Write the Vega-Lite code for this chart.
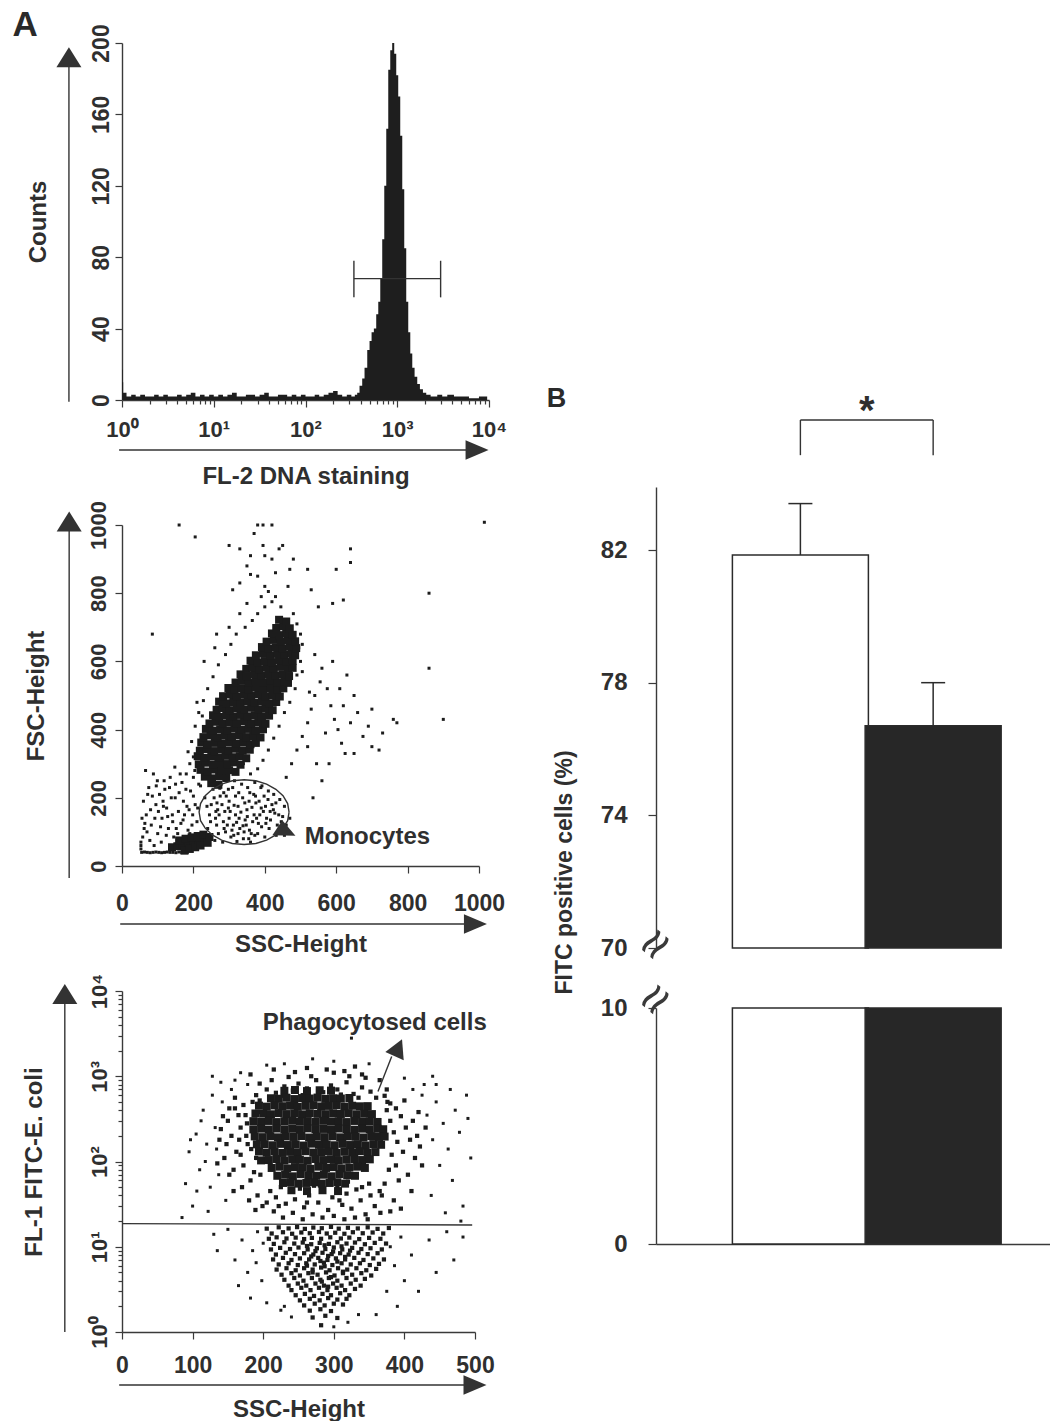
{
"$schema": "https://vega.github.io/schema/vega-lite/v6.json",
"background": "white",
"padding": {"left": 12, "top": 8, "right": 0, "bottom": 0},
"config": {
  "view": {"stroke": null},
  "font": "Liberation Sans",
  "axis": {"domainColor": "#3a3a3a", "domainWidth": 1.4, "tickColor": "#3a3a3a", "tickWidth": 1.2, "labelColor": "#2f2f2f", "titleColor": "#2f2f2f", "labelFont": "Liberation Sans", "titleFont": "Liberation Sans", "titleFontWeight": "bold", "grid": false, "labelFlush": false, "labelOverlap": false, "labelBound": false},
  "text": {"font": "Liberation Sans", "fontWeight": "bold", "color": "#2f2f2f"}
},
"datasets": {
  "hist": [{"fl2":1,"count":17},{"fl2":1.015,"count":10},{"fl2":1.03,"count":4},{"fl2":1.12,"count":2},{"fl2":1.26,"count":3},{"fl2":1.41,"count":2},{"fl2":1.58,"count":3},{"fl2":1.78,"count":2},{"fl2":2.0,"count":2},{"fl2":2.24,"count":3},{"fl2":2.51,"count":2},{"fl2":2.82,"count":3},{"fl2":3.16,"count":2},{"fl2":3.55,"count":2},{"fl2":3.98,"count":3},{"fl2":4.47,"count":2},{"fl2":5.01,"count":3},{"fl2":5.62,"count":4},{"fl2":6.31,"count":2},{"fl2":7.08,"count":3},{"fl2":7.94,"count":2},{"fl2":8.91,"count":3},{"fl2":10,"count":2},{"fl2":11.2,"count":3},{"fl2":12.6,"count":2},{"fl2":14.1,"count":3},{"fl2":15.8,"count":4},{"fl2":17.8,"count":2},{"fl2":20,"count":2},{"fl2":22.4,"count":3},{"fl2":25.1,"count":3},{"fl2":28.2,"count":2},{"fl2":31.6,"count":3},{"fl2":35.5,"count":4},{"fl2":39.8,"count":2},{"fl2":44.7,"count":2},{"fl2":50.1,"count":3},{"fl2":56.2,"count":3},{"fl2":63.1,"count":2},{"fl2":70.8,"count":3},{"fl2":79.4,"count":2},{"fl2":89.1,"count":3},{"fl2":100,"count":2},{"fl2":112,"count":2},{"fl2":126,"count":3},{"fl2":141,"count":2},{"fl2":158,"count":3},{"fl2":178,"count":4},{"fl2":200,"count":5},{"fl2":224,"count":3},{"fl2":251,"count":2},{"fl2":282,"count":3},{"fl2":316,"count":2},{"fl2":345,"count":3},{"fl2":366,"count":4},{"fl2":388,"count":8},{"fl2":415,"count":12},{"fl2":440,"count":18},{"fl2":471,"count":28},{"fl2":499,"count":33},{"fl2":525,"count":38},{"fl2":556,"count":40},{"fl2":590,"count":48},{"fl2":621,"count":55},{"fl2":653,"count":68},{"fl2":686,"count":90},{"fl2":722,"count":120},{"fl2":759,"count":152},{"fl2":798,"count":185},{"fl2":839,"count":196},{"fl2":881,"count":200},{"fl2":927,"count":194},{"fl2":975,"count":182},{"fl2":1025,"count":170},{"fl2":1078,"count":148},{"fl2":1134,"count":118},{"fl2":1192,"count":85},{"fl2":1253,"count":55},{"fl2":1318,"count":38},{"fl2":1387,"count":26},{"fl2":1458,"count":18},{"fl2":1545,"count":13},{"fl2":1652,"count":9},{"fl2":1766,"count":6},{"fl2":1905,"count":4},{"fl2":2070,"count":3},{"fl2":2310,"count":2},{"fl2":2730,"count":3},{"fl2":3090,"count":2},{"fl2":3510,"count":3},{"fl2":4150,"count":2},{"fl2":5120,"count":2},{"fl2":6050,"count":1},{"fl2":7770,"count":2},{"fl2":9550,"count":0},{"fl2":10000,"count":0}],
  "fsc_core": [{"ssc":250,"fsc":243},{"ssc":270,"fsc":238},{"ssc":232,"fsc":262},{"ssc":252,"fsc":257},{"ssc":272,"fsc":263},{"ssc":292,"fsc":258},{"ssc":220,"fsc":282},{"ssc":240,"fsc":277},{"ssc":260,"fsc":283},{"ssc":280,"fsc":279},{"ssc":300,"fsc":281},{"ssc":318,"fsc":276},{"ssc":215,"fsc":298},{"ssc":235,"fsc":303},{"ssc":255,"fsc":297},{"ssc":275,"fsc":302},{"ssc":295,"fsc":299},{"ssc":315,"fsc":304},{"ssc":332,"fsc":297},{"ssc":212,"fsc":322},{"ssc":230,"fsc":317},{"ssc":250,"fsc":321},{"ssc":270,"fsc":318},{"ssc":290,"fsc":323},{"ssc":310,"fsc":319},{"ssc":330,"fsc":322},{"ssc":348,"fsc":316},{"ssc":218,"fsc":338},{"ssc":238,"fsc":343},{"ssc":258,"fsc":337},{"ssc":278,"fsc":342},{"ssc":298,"fsc":339},{"ssc":318,"fsc":344},{"ssc":338,"fsc":338},{"ssc":358,"fsc":341},{"ssc":222,"fsc":362},{"ssc":240,"fsc":357},{"ssc":260,"fsc":361},{"ssc":280,"fsc":358},{"ssc":300,"fsc":363},{"ssc":320,"fsc":359},{"ssc":340,"fsc":362},{"ssc":360,"fsc":357},{"ssc":375,"fsc":361},{"ssc":228,"fsc":378},{"ssc":248,"fsc":383},{"ssc":268,"fsc":377},{"ssc":288,"fsc":382},{"ssc":308,"fsc":379},{"ssc":328,"fsc":384},{"ssc":348,"fsc":378},{"ssc":368,"fsc":381},{"ssc":388,"fsc":377},{"ssc":235,"fsc":402},{"ssc":255,"fsc":397},{"ssc":275,"fsc":401},{"ssc":295,"fsc":398},{"ssc":315,"fsc":403},{"ssc":335,"fsc":399},{"ssc":355,"fsc":402},{"ssc":375,"fsc":397},{"ssc":395,"fsc":401},{"ssc":245,"fsc":418},{"ssc":262,"fsc":423},{"ssc":282,"fsc":417},{"ssc":302,"fsc":422},{"ssc":322,"fsc":419},{"ssc":342,"fsc":424},{"ssc":362,"fsc":418},{"ssc":382,"fsc":421},{"ssc":402,"fsc":417},{"ssc":255,"fsc":442},{"ssc":272,"fsc":437},{"ssc":292,"fsc":441},{"ssc":312,"fsc":438},{"ssc":332,"fsc":443},{"ssc":352,"fsc":439},{"ssc":372,"fsc":442},{"ssc":392,"fsc":437},{"ssc":412,"fsc":441},{"ssc":265,"fsc":458},{"ssc":282,"fsc":463},{"ssc":302,"fsc":457},{"ssc":322,"fsc":462},{"ssc":342,"fsc":459},{"ssc":362,"fsc":464},{"ssc":382,"fsc":458},{"ssc":402,"fsc":461},{"ssc":422,"fsc":457},{"ssc":272,"fsc":482},{"ssc":292,"fsc":477},{"ssc":312,"fsc":481},{"ssc":332,"fsc":478},{"ssc":352,"fsc":483},{"ssc":372,"fsc":479},{"ssc":392,"fsc":482},{"ssc":412,"fsc":477},{"ssc":432,"fsc":481},{"ssc":283,"fsc":498},{"ssc":302,"fsc":503},{"ssc":322,"fsc":497},{"ssc":342,"fsc":502},{"ssc":362,"fsc":499},{"ssc":382,"fsc":504},{"ssc":402,"fsc":498},{"ssc":422,"fsc":501},{"ssc":442,"fsc":497},{"ssc":298,"fsc":522},{"ssc":315,"fsc":517},{"ssc":335,"fsc":521},{"ssc":355,"fsc":518},{"ssc":375,"fsc":523},{"ssc":395,"fsc":519},{"ssc":415,"fsc":522},{"ssc":435,"fsc":517},{"ssc":452,"fsc":521},{"ssc":318,"fsc":538},{"ssc":335,"fsc":543},{"ssc":355,"fsc":537},{"ssc":375,"fsc":542},{"ssc":395,"fsc":539},{"ssc":415,"fsc":544},{"ssc":435,"fsc":538},{"ssc":455,"fsc":541},{"ssc":465,"fsc":537},{"ssc":332,"fsc":562},{"ssc":350,"fsc":557},{"ssc":370,"fsc":561},{"ssc":390,"fsc":558},{"ssc":410,"fsc":563},{"ssc":430,"fsc":559},{"ssc":450,"fsc":562},{"ssc":468,"fsc":557},{"ssc":348,"fsc":578},{"ssc":365,"fsc":583},{"ssc":385,"fsc":577},{"ssc":405,"fsc":582},{"ssc":425,"fsc":579},{"ssc":445,"fsc":584},{"ssc":465,"fsc":578},{"ssc":478,"fsc":581},{"ssc":360,"fsc":602},{"ssc":380,"fsc":597},{"ssc":400,"fsc":601},{"ssc":420,"fsc":598},{"ssc":440,"fsc":603},{"ssc":460,"fsc":599},{"ssc":478,"fsc":602},{"ssc":375,"fsc":618},{"ssc":395,"fsc":623},{"ssc":415,"fsc":617},{"ssc":435,"fsc":622},{"ssc":455,"fsc":619},{"ssc":475,"fsc":624},{"ssc":485,"fsc":618},{"ssc":392,"fsc":642},{"ssc":410,"fsc":637},{"ssc":430,"fsc":641},{"ssc":450,"fsc":638},{"ssc":470,"fsc":643},{"ssc":488,"fsc":639},{"ssc":405,"fsc":658},{"ssc":425,"fsc":663},{"ssc":445,"fsc":657},{"ssc":465,"fsc":662},{"ssc":485,"fsc":659},{"ssc":420,"fsc":682},{"ssc":440,"fsc":677},{"ssc":460,"fsc":681},{"ssc":478,"fsc":678},{"ssc":432,"fsc":698},{"ssc":452,"fsc":703},{"ssc":470,"fsc":697},{"ssc":440,"fsc":722},{"ssc":460,"fsc":717},{"ssc":140,"fsc":55},{"ssc":155,"fsc":58},{"ssc":170,"fsc":62},{"ssc":185,"fsc":66},{"ssc":200,"fsc":70},{"ssc":215,"fsc":74},{"ssc":230,"fsc":78},{"ssc":160,"fsc":75},{"ssc":178,"fsc":80},{"ssc":195,"fsc":84},{"ssc":212,"fsc":88},{"ssc":228,"fsc":92},{"ssc":175,"fsc":45},{"ssc":190,"fsc":50},{"ssc":205,"fsc":55},{"ssc":220,"fsc":60},{"ssc":240,"fsc":68},{"ssc":245,"fsc":85}],
  "fsc_sparse": [{"ssc":250,"fsc":180},{"ssc":262,"fsc":140},{"ssc":275,"fsc":205},{"ssc":288,"fsc":160},{"ssc":295,"fsc":120},{"ssc":300,"fsc":190},{"ssc":310,"fsc":230},{"ssc":318,"fsc":150},{"ssc":325,"fsc":175},{"ssc":330,"fsc":110},{"ssc":338,"fsc":200},{"ssc":345,"fsc":135},{"ssc":350,"fsc":165},{"ssc":358,"fsc":215},{"ssc":362,"fsc":95},{"ssc":370,"fsc":150},{"ssc":375,"fsc":185},{"ssc":382,"fsc":125},{"ssc":390,"fsc":170},{"ssc":398,"fsc":205},{"ssc":405,"fsc":140},{"ssc":412,"fsc":110},{"ssc":420,"fsc":180},{"ssc":428,"fsc":155},{"ssc":435,"fsc":120},{"ssc":442,"fsc":195},{"ssc":450,"fsc":145},{"ssc":278,"fsc":240},{"ssc":290,"fsc":100},{"ssc":305,"fsc":85},{"ssc":322,"fsc":72},{"ssc":340,"fsc":80},{"ssc":360,"fsc":70},{"ssc":380,"fsc":95},{"ssc":400,"fsc":85},{"ssc":415,"fsc":160},{"ssc":432,"fsc":90},{"ssc":265,"fsc":120},{"ssc":255,"fsc":225},{"ssc":270,"fsc":95},{"ssc":285,"fsc":215},{"ssc":315,"fsc":250},{"ssc":335,"fsc":240},{"ssc":352,"fsc":230},{"ssc":372,"fsc":245},{"ssc":392,"fsc":235},{"ssc":410,"fsc":220},{"ssc":425,"fsc":210},{"ssc":245,"fsc":150},{"ssc":240,"fsc":110},{"ssc":232,"fsc":200},{"ssc":300,"fsc":140},{"ssc":312,"fsc":120},{"ssc":328,"fsc":140},{"ssc":348,"fsc":120},{"ssc":366,"fsc":130},{"ssc":386,"fsc":150},{"ssc":402,"fsc":175},{"ssc":318,"fsc":205},{"ssc":298,"fsc":170},{"ssc":280,"fsc":180},{"ssc":268,"fsc":165},{"ssc":356,"fsc":190},{"ssc":374,"fsc":205},{"ssc":342,"fsc":100},{"ssc":325,"fsc":95},{"ssc":455,"fsc":175},{"ssc":460,"fsc":120},{"ssc":470,"fsc":140},{"ssc":455,"fsc":90},{"ssc":260,"fsc":75},{"ssc":282,"fsc":70},{"ssc":258,"fsc":200},{"ssc":266,"fsc":185},{"ssc":272,"fsc":150},{"ssc":284,"fsc":130},{"ssc":292,"fsc":205},{"ssc":303,"fsc":160},{"ssc":308,"fsc":105},{"ssc":314,"fsc":178},{"ssc":321,"fsc":128},{"ssc":327,"fsc":215},{"ssc":333,"fsc":158},{"ssc":339,"fsc":118},{"ssc":344,"fsc":185},{"ssc":351,"fsc":145},{"ssc":357,"fsc":105},{"ssc":364,"fsc":172},{"ssc":369,"fsc":210},{"ssc":377,"fsc":140},{"ssc":384,"fsc":190},{"ssc":391,"fsc":115},{"ssc":396,"fsc":160},{"ssc":403,"fsc":125},{"ssc":409,"fsc":195},{"ssc":416,"fsc":135},{"ssc":424,"fsc":165},{"ssc":431,"fsc":185},{"ssc":439,"fsc":150},{"ssc":446,"fsc":130},{"ssc":298,"fsc":225},{"ssc":286,"fsc":110},{"ssc":274,"fsc":228},{"ssc":263,"fsc":160},{"ssc":248,"fsc":130},{"ssc":238,"fsc":175},{"ssc":355,"fsc":80},{"ssc":372,"fsc":90},{"ssc":389,"fsc":230},{"ssc":313,"fsc":90},{"ssc":60,"fsc":190},{"ssc":68,"fsc":150},{"ssc":75,"fsc":230},{"ssc":82,"fsc":120},{"ssc":88,"fsc":270},{"ssc":95,"fsc":180},{"ssc":100,"fsc":95},{"ssc":105,"fsc":210},{"ssc":112,"fsc":140},{"ssc":118,"fsc":250},{"ssc":125,"fsc":170},{"ssc":130,"fsc":110},{"ssc":138,"fsc":200},{"ssc":145,"fsc":85},{"ssc":150,"fsc":240},{"ssc":158,"fsc":160},{"ssc":165,"fsc":125},{"ssc":172,"fsc":190},{"ssc":180,"fsc":270},{"ssc":185,"fsc":105},{"ssc":192,"fsc":220},{"ssc":198,"fsc":150},{"ssc":205,"fsc":180},{"ssc":210,"fsc":130},{"ssc":215,"fsc":240},{"ssc":70,"fsc":100},{"ssc":78,"fsc":75},{"ssc":90,"fsc":60},{"ssc":110,"fsc":70},{"ssc":62,"fsc":110},{"ssc":58,"fsc":85},{"ssc":120,"fsc":225},{"ssc":135,"fsc":260},{"ssc":148,"fsc":290},{"ssc":160,"fsc":215},{"ssc":175,"fsc":150},{"ssc":190,"fsc":95},{"ssc":200,"fsc":205},{"ssc":66,"fsc":280},{"ssc":85,"fsc":205},{"ssc":102,"fsc":160},{"ssc":128,"fsc":145},{"ssc":142,"fsc":130},{"ssc":168,"fsc":245},{"ssc":182,"fsc":175},{"ssc":56,"fsc":140},{"ssc":96,"fsc":235},{"ssc":115,"fsc":190},{"ssc":152,"fsc":110},{"ssc":170,"fsc":80},{"ssc":64,"fsc":125},{"ssc":72,"fsc":210},{"ssc":80,"fsc":165},{"ssc":92,"fsc":140},{"ssc":99,"fsc":250},{"ssc":108,"fsc":115},{"ssc":116,"fsc":175},{"ssc":124,"fsc":90},{"ssc":133,"fsc":230},{"ssc":141,"fsc":150},{"ssc":149,"fsc":200},{"ssc":156,"fsc":95},{"ssc":163,"fsc":270},{"ssc":171,"fsc":135},{"ssc":179,"fsc":225},{"ssc":188,"fsc":165},{"ssc":196,"fsc":120},{"ssc":204,"fsc":280},{"ssc":212,"fsc":170},{"ssc":220,"fsc":235},{"ssc":200,"fsc":320},{"ssc":195,"fsc":365},{"ssc":205,"fsc":410},{"ssc":215,"fsc":450},{"ssc":228,"fsc":485},{"ssc":240,"fsc":520},{"ssc":255,"fsc":555},{"ssc":270,"fsc":590},{"ssc":290,"fsc":620},{"ssc":305,"fsc":650},{"ssc":320,"fsc":680},{"ssc":345,"fsc":700},{"ssc":365,"fsc":720},{"ssc":380,"fsc":740},{"ssc":400,"fsc":760},{"ssc":420,"fsc":775},{"ssc":445,"fsc":760},{"ssc":480,"fsc":740},{"ssc":490,"fsc":710},{"ssc":500,"fsc":680},{"ssc":495,"fsc":640},{"ssc":500,"fsc":600},{"ssc":490,"fsc":560},{"ssc":485,"fsc":520},{"ssc":470,"fsc":480},{"ssc":455,"fsc":450},{"ssc":440,"fsc":410},{"ssc":425,"fsc":375},{"ssc":410,"fsc":340},{"ssc":395,"fsc":310},{"ssc":380,"fsc":285},{"ssc":360,"fsc":270},{"ssc":340,"fsc":300},{"ssc":320,"fsc":280},{"ssc":190,"fsc":300},{"ssc":200,"fsc":260},{"ssc":185,"fsc":335},{"ssc":230,"fsc":600},{"ssc":260,"fsc":640},{"ssc":300,"fsc":700},{"ssc":330,"fsc":740},{"ssc":350,"fsc":770},{"ssc":390,"fsc":790},{"ssc":410,"fsc":805},{"ssc":430,"fsc":790},{"ssc":455,"fsc":720},{"ssc":210,"fsc":480},{"ssc":265,"fsc":680},{"ssc":225,"fsc":440},{"ssc":505,"fsc":650},{"ssc":460,"fsc":260},{"ssc":475,"fsc":300},{"ssc":490,"fsc":340},{"ssc":505,"fsc":380},{"ssc":520,"fsc":420},{"ssc":530,"fsc":460},{"ssc":540,"fsc":500},{"ssc":555,"fsc":540},{"ssc":560,"fsc":580},{"ssc":575,"fsc":520},{"ssc":585,"fsc":470},{"ssc":595,"fsc":430},{"ssc":605,"fsc":400},{"ssc":615,"fsc":360},{"ssc":625,"fsc":330},{"ssc":640,"fsc":420},{"ssc":650,"fsc":500},{"ssc":660,"fsc":450},{"ssc":675,"fsc":380},{"ssc":690,"fsc":410},{"ssc":700,"fsc":350},{"ssc":720,"fsc":340},{"ssc":730,"fsc":390},{"ssc":770,"fsc":420},{"ssc":760,"fsc":430},{"ssc":520,"fsc":350},{"ssc":545,"fsc":300},{"ssc":560,"fsc":250},{"ssc":535,"fsc":200},{"ssc":580,"fsc":300},{"ssc":610,"fsc":520},{"ssc":630,"fsc":560},{"ssc":590,"fsc":600},{"ssc":540,"fsc":620},{"ssc":505,"fsc":570},{"ssc":620,"fsc":470},{"ssc":650,"fsc":330},{"ssc":700,"fsc":460},{"ssc":570,"fsc":390},{"ssc":525,"fsc":510},{"ssc":160,"fsc":1000},{"ssc":205,"fsc":965},{"ssc":330,"fsc":930},{"ssc":370,"fsc":975},{"ssc":380,"fsc":1000},{"ssc":395,"fsc":1000},{"ssc":420,"fsc":1000},{"ssc":450,"fsc":940},{"ssc":440,"fsc":930},{"ssc":400,"fsc":910},{"ssc":360,"fsc":910},{"ssc":420,"fsc":900},{"ssc":480,"fsc":900},{"ssc":380,"fsc":850},{"ssc":330,"fsc":830},{"ssc":360,"fsc":855},{"ssc":310,"fsc":810},{"ssc":400,"fsc":820},{"ssc":465,"fsc":820},{"ssc":530,"fsc":810},{"ssc":600,"fsc":870},{"ssc":640,"fsc":890},{"ssc":640,"fsc":930},{"ssc":590,"fsc":770},{"ssc":550,"fsc":760},{"ssc":620,"fsc":780},{"ssc":860,"fsc":800},{"ssc":860,"fsc":580},{"ssc":900,"fsc":430},{"ssc":1015,"fsc":1008},{"ssc":85,"fsc":680},{"ssc":350,"fsc":880},{"ssc":430,"fsc":860},{"ssc":470,"fsc":870},{"ssc":520,"fsc":870},{"ssc":395,"fsc":940},{"ssc":300,"fsc":940},{"ssc":55,"fsc":40},{"ssc":63,"fsc":41},{"ssc":71,"fsc":40},{"ssc":79,"fsc":39},{"ssc":87,"fsc":40},{"ssc":95,"fsc":41},{"ssc":103,"fsc":40},{"ssc":111,"fsc":39},{"ssc":119,"fsc":40},{"ssc":127,"fsc":41},{"ssc":135,"fsc":40},{"ssc":143,"fsc":40},{"ssc":151,"fsc":39},{"ssc":159,"fsc":41},{"ssc":167,"fsc":40},{"ssc":175,"fsc":40},{"ssc":183,"fsc":40},{"ssc":53,"fsc":50},{"ssc":53,"fsc":60},{"ssc":53,"fsc":70}],
  "mono_gate": [{"i":0,"ssc":468,"fsc":158},{"i":1,"ssc":464,"fsc":183},{"i":2,"ssc":451,"fsc":206},{"i":3,"ssc":431,"fsc":225},{"i":4,"ssc":405,"fsc":240},{"i":5,"ssc":375,"fsc":250},{"i":6,"ssc":342,"fsc":253},{"i":7,"ssc":309,"fsc":250},{"i":8,"ssc":279,"fsc":240},{"i":9,"ssc":253,"fsc":225},{"i":10,"ssc":233,"fsc":206},{"i":11,"ssc":220,"fsc":183},{"i":12,"ssc":216,"fsc":158},{"i":13,"ssc":220,"fsc":133},{"i":14,"ssc":233,"fsc":111},{"i":15,"ssc":253,"fsc":91},{"i":16,"ssc":279,"fsc":76},{"i":17,"ssc":309,"fsc":66},{"i":18,"ssc":342,"fsc":63},{"i":19,"ssc":375,"fsc":66},{"i":20,"ssc":405,"fsc":76},{"i":21,"ssc":431,"fsc":91},{"i":22,"ssc":451,"fsc":111},{"i":23,"ssc":464,"fsc":133},{"i":24,"ssc":468,"fsc":158}],
  "fitc_core": [{"ssc":230,"fitc":675},{"ssc":245,"fitc":690},{"ssc":262,"fitc":670},{"ssc":280,"fitc":685},{"ssc":296,"fitc":678},{"ssc":211,"fitc":552},{"ssc":222,"fitc":545},{"ssc":233,"fitc":560},{"ssc":244,"fitc":540},{"ssc":255,"fitc":555},{"ssc":266,"fitc":548},{"ssc":277,"fitc":562},{"ssc":288,"fitc":542},{"ssc":299,"fitc":552},{"ssc":310,"fitc":548},{"ssc":322,"fitc":556},{"ssc":194,"fitc":452},{"ssc":205,"fitc":440},{"ssc":216,"fitc":455},{"ssc":227,"fitc":445},{"ssc":238,"fitc":452},{"ssc":249,"fitc":438},{"ssc":260,"fitc":450},{"ssc":271,"fitc":458},{"ssc":282,"fitc":442},{"ssc":293,"fitc":449},{"ssc":304,"fitc":456},{"ssc":315,"fitc":441},{"ssc":326,"fitc":451},{"ssc":337,"fitc":444},{"ssc":348,"fitc":446},{"ssc":189,"fitc":366},{"ssc":200,"fitc":365},{"ssc":211,"fitc":358},{"ssc":222,"fitc":370},{"ssc":233,"fitc":360},{"ssc":244,"fitc":366},{"ssc":255,"fitc":357},{"ssc":266,"fitc":368},{"ssc":277,"fitc":362},{"ssc":288,"fitc":359},{"ssc":299,"fitc":367},{"ssc":310,"fitc":361},{"ssc":321,"fitc":369},{"ssc":332,"fitc":358},{"ssc":343,"fitc":364},{"ssc":354,"fitc":360},{"ssc":186,"fitc":297},{"ssc":197,"fitc":292},{"ssc":208,"fitc":299},{"ssc":219,"fitc":290},{"ssc":230,"fitc":297},{"ssc":241,"fitc":301},{"ssc":252,"fitc":293},{"ssc":263,"fitc":298},{"ssc":274,"fitc":291},{"ssc":285,"fitc":300},{"ssc":296,"fitc":294},{"ssc":307,"fitc":297},{"ssc":318,"fitc":290},{"ssc":329,"fitc":299},{"ssc":340,"fitc":293},{"ssc":351,"fitc":296},{"ssc":362,"fitc":291},{"ssc":186,"fitc":238},{"ssc":197,"fitc":243},{"ssc":208,"fitc":237},{"ssc":219,"fitc":244},{"ssc":230,"fitc":238},{"ssc":241,"fitc":242},{"ssc":252,"fitc":236},{"ssc":263,"fitc":245},{"ssc":274,"fitc":239},{"ssc":285,"fitc":241},{"ssc":296,"fitc":237},{"ssc":307,"fitc":244},{"ssc":318,"fitc":240},{"ssc":329,"fitc":236},{"ssc":340,"fitc":243},{"ssc":351,"fitc":238},{"ssc":362,"fitc":242},{"ssc":370,"fitc":239},{"ssc":188,"fitc":197},{"ssc":199,"fitc":193},{"ssc":210,"fitc":198},{"ssc":221,"fitc":192},{"ssc":232,"fitc":197},{"ssc":243,"fitc":194},{"ssc":254,"fitc":199},{"ssc":265,"fitc":191},{"ssc":276,"fitc":196},{"ssc":287,"fitc":193},{"ssc":298,"fitc":198},{"ssc":309,"fitc":192},{"ssc":320,"fitc":197},{"ssc":331,"fitc":195},{"ssc":342,"fitc":191},{"ssc":353,"fitc":198},{"ssc":364,"fitc":194},{"ssc":372,"fitc":196},{"ssc":191,"fitc":159},{"ssc":202,"fitc":160},{"ssc":213,"fitc":155},{"ssc":224,"fitc":161},{"ssc":235,"fitc":156},{"ssc":246,"fitc":159},{"ssc":257,"fitc":154},{"ssc":268,"fitc":162},{"ssc":279,"fitc":157},{"ssc":290,"fitc":158},{"ssc":301,"fitc":155},{"ssc":312,"fitc":161},{"ssc":323,"fitc":156},{"ssc":334,"fitc":159},{"ssc":345,"fitc":154},{"ssc":356,"fitc":160},{"ssc":367,"fitc":157},{"ssc":194,"fitc":131},{"ssc":205,"fitc":127},{"ssc":216,"fitc":131},{"ssc":227,"fitc":126},{"ssc":238,"fitc":130},{"ssc":249,"fitc":128},{"ssc":260,"fitc":132},{"ssc":271,"fitc":127},{"ssc":282,"fitc":129},{"ssc":293,"fitc":131},{"ssc":304,"fitc":126},{"ssc":315,"fitc":130},{"ssc":326,"fitc":128},{"ssc":337,"fitc":132},{"ssc":348,"fitc":127},{"ssc":359,"fitc":129},{"ssc":197,"fitc":103},{"ssc":208,"fitc":104},{"ssc":219,"fitc":107},{"ssc":230,"fitc":103},{"ssc":241,"fitc":106},{"ssc":252,"fitc":105},{"ssc":263,"fitc":102},{"ssc":274,"fitc":107},{"ssc":285,"fitc":104},{"ssc":296,"fitc":106},{"ssc":307,"fitc":103},{"ssc":318,"fitc":105},{"ssc":329,"fitc":107},{"ssc":340,"fitc":104},{"ssc":351,"fitc":106},{"ssc":212,"fitc":84},{"ssc":223,"fitc":87},{"ssc":234,"fitc":83},{"ssc":245,"fitc":86},{"ssc":256,"fitc":85},{"ssc":267,"fitc":82},{"ssc":278,"fitc":87},{"ssc":289,"fitc":84},{"ssc":300,"fitc":86},{"ssc":311,"fitc":83},{"ssc":322,"fitc":85},{"ssc":333,"fitc":87},{"ssc":344,"fitc":84},{"ssc":220,"fitc":68},{"ssc":231,"fitc":70},{"ssc":242,"fitc":67},{"ssc":253,"fitc":71},{"ssc":264,"fitc":69},{"ssc":275,"fitc":68},{"ssc":286,"fitc":70},{"ssc":297,"fitc":67},{"ssc":308,"fitc":71},{"ssc":319,"fitc":69},{"ssc":330,"fitc":68},{"ssc":228,"fitc":56},{"ssc":239,"fitc":57},{"ssc":250,"fitc":55},{"ssc":261,"fitc":56},{"ssc":272,"fitc":57},{"ssc":283,"fitc":55},{"ssc":294,"fitc":56},{"ssc":305,"fitc":57},{"ssc":316,"fitc":55},{"ssc":240,"fitc":46},{"ssc":262,"fitc":45},{"ssc":284,"fitc":46},{"ssc":306,"fitc":45}],
  "fitc_cloud": [{"ssc":205,"fitc":700},{"ssc":218,"fitc":640},{"ssc":230,"fitc":760},{"ssc":242,"fitc":680},{"ssc":250,"fitc":820},{"ssc":262,"fitc":720},{"ssc":275,"fitc":900},{"ssc":285,"fitc":650},{"ssc":296,"fitc":780},{"ssc":305,"fitc":700},{"ssc":318,"fitc":850},{"ssc":328,"fitc":620},{"ssc":340,"fitc":740},{"ssc":352,"fitc":660},{"ssc":360,"fitc":560},{"ssc":372,"fitc":590},{"ssc":380,"fitc":480},{"ssc":190,"fitc":600},{"ssc":195,"fitc":520},{"ssc":212,"fitc":900},{"ssc":236,"fitc":980},{"ssc":268,"fitc":1000},{"ssc":300,"fitc":1100},{"ssc":322,"fitc":1000},{"ssc":345,"fitc":960},{"ssc":256,"fitc":600},{"ssc":310,"fitc":610},{"ssc":228,"fitc":590},{"ssc":335,"fitc":560},{"ssc":290,"fitc":1200},{"ssc":262,"fitc":1250},{"ssc":245,"fitc":1120},{"ssc":330,"fitc":1300},{"ssc":315,"fitc":1150},{"ssc":215,"fitc":1200},{"ssc":182,"fitc":1050},{"ssc":340,"fitc":1050},{"ssc":365,"fitc":900},{"ssc":375,"fitc":700},{"ssc":195,"fitc":820},{"ssc":150,"fitc":300},{"ssc":155,"fitc":200},{"ssc":160,"fitc":420},{"ssc":162,"fitc":130},{"ssc":168,"fitc":250},{"ssc":172,"fitc":90},{"ssc":175,"fitc":350},{"ssc":178,"fitc":160},{"ssc":182,"fitc":60},{"ssc":185,"fitc":500},{"ssc":188,"fitc":220},{"ssc":190,"fitc":110},{"ssc":192,"fitc":40},{"ssc":195,"fitc":380},{"ssc":186,"fitc":300},{"ssc":176,"fitc":200},{"ssc":166,"fitc":180},{"ssc":158,"fitc":80},{"ssc":170,"fitc":50},{"ssc":180,"fitc":35},{"ssc":189,"fitc":27},{"ssc":196,"fitc":70},{"ssc":165,"fitc":350},{"ssc":172,"fitc":460},{"ssc":183,"fitc":140},{"ssc":148,"fitc":160},{"ssc":140,"fitc":240},{"ssc":145,"fitc":110},{"ssc":152,"fitc":70},{"ssc":158,"fitc":45},{"ssc":177,"fitc":280},{"ssc":168,"fitc":120},{"ssc":193,"fitc":170},{"ssc":187,"fitc":75},{"ssc":199,"fitc":30},{"ssc":160,"fitc":560},{"ssc":152,"fitc":420},{"ssc":143,"fitc":340},{"ssc":138,"fitc":180},{"ssc":135,"fitc":95},{"ssc":375,"fitc":400},{"ssc":380,"fitc":300},{"ssc":382,"fitc":120},{"ssc":385,"fitc":220},{"ssc":388,"fitc":90},{"ssc":390,"fitc":170},{"ssc":392,"fitc":60},{"ssc":395,"fitc":340},{"ssc":398,"fitc":130},{"ssc":402,"fitc":250},{"ssc":405,"fitc":70},{"ssc":408,"fitc":180},{"ssc":410,"fitc":45},{"ssc":412,"fitc":300},{"ssc":415,"fitc":110},{"ssc":378,"fitc":80},{"ssc":372,"fitc":55},{"ssc":368,"fitc":40},{"ssc":385,"fitc":35},{"ssc":395,"fitc":28},{"ssc":376,"fitc":500},{"ssc":388,"fitc":420},{"ssc":400,"fitc":520},{"ssc":366,"fitc":25},{"ssc":380,"fitc":26},{"ssc":418,"fitc":200},{"ssc":422,"fitc":150},{"ssc":425,"fitc":90},{"ssc":420,"fitc":380},{"ssc":430,"fitc":250},{"ssc":210,"fitc":45},{"ssc":218,"fitc":38},{"ssc":225,"fitc":50},{"ssc":232,"fitc":32},{"ssc":238,"fitc":44},{"ssc":245,"fitc":36},{"ssc":252,"fitc":48},{"ssc":258,"fitc":29},{"ssc":265,"fitc":40},{"ssc":272,"fitc":52},{"ssc":278,"fitc":33},{"ssc":285,"fitc":45},{"ssc":292,"fitc":27},{"ssc":298,"fitc":38},{"ssc":305,"fitc":50},{"ssc":312,"fitc":31},{"ssc":318,"fitc":42},{"ssc":325,"fitc":28},{"ssc":332,"fitc":47},{"ssc":338,"fitc":35},{"ssc":345,"fitc":24},{"ssc":352,"fitc":40},{"ssc":358,"fitc":30},{"ssc":215,"fitc":26},{"ssc":228,"fitc":22},{"ssc":242,"fitc":25},{"ssc":256,"fitc":21},{"ssc":270,"fitc":24},{"ssc":284,"fitc":22},{"ssc":300,"fitc":23},{"ssc":315,"fitc":21},{"ssc":330,"fitc":22},{"ssc":348,"fitc":21},{"ssc":222,"fitc":30},{"ssc":262,"fitc":33},{"ssc":308,"fitc":35},{"ssc":340,"fitc":50},{"ssc":365,"fitc":45},{"ssc":205,"fitc":33},{"ssc":235,"fitc":55},{"ssc":275,"fitc":58},{"ssc":320,"fitc":58},{"ssc":350,"fitc":55},{"ssc":205,"fitc":16.3},{"ssc":222,"fitc":16.9},{"ssc":236,"fitc":16.4},{"ssc":248,"fitc":17.0},{"ssc":259,"fitc":16.2},{"ssc":271,"fitc":16.8},{"ssc":283,"fitc":16.5},{"ssc":296,"fitc":17.1},{"ssc":307,"fitc":16.3},{"ssc":320,"fitc":16.7},{"ssc":334,"fitc":16.4},{"ssc":348,"fitc":16.9},{"ssc":362,"fitc":16.2},{"ssc":378,"fitc":16.6},{"ssc":212,"fitc":14.3},{"ssc":228,"fitc":14.8},{"ssc":241,"fitc":14.2},{"ssc":254,"fitc":14.7},{"ssc":266,"fitc":14.4},{"ssc":279,"fitc":14.9},{"ssc":290,"fitc":14.3},{"ssc":302,"fitc":14.6},{"ssc":315,"fitc":14.2},{"ssc":327,"fitc":14.8},{"ssc":341,"fitc":14.4},{"ssc":355,"fitc":14.7},{"ssc":370,"fitc":14.3},{"ssc":208,"fitc":12.4},{"ssc":219,"fitc":12.9},{"ssc":233,"fitc":12.5},{"ssc":246,"fitc":12.8},{"ssc":258,"fitc":12.3},{"ssc":269,"fitc":12.7},{"ssc":282,"fitc":12.4},{"ssc":295,"fitc":12.9},{"ssc":310,"fitc":12.5},{"ssc":322,"fitc":12.8},{"ssc":336,"fitc":12.3},{"ssc":350,"fitc":12.7},{"ssc":366,"fitc":12.4},{"ssc":215,"fitc":10.8},{"ssc":230,"fitc":11.3},{"ssc":244,"fitc":10.9},{"ssc":256,"fitc":11.2},{"ssc":268,"fitc":10.7},{"ssc":280,"fitc":11.1},{"ssc":293,"fitc":10.8},{"ssc":305,"fitc":11.3},{"ssc":318,"fitc":10.9},{"ssc":330,"fitc":11.2},{"ssc":344,"fitc":10.7},{"ssc":358,"fitc":11.1},{"ssc":374,"fitc":10.9},{"ssc":211,"fitc":9.3},{"ssc":224,"fitc":9.7},{"ssc":238,"fitc":9.4},{"ssc":250,"fitc":9.8},{"ssc":263,"fitc":9.3},{"ssc":276,"fitc":9.6},{"ssc":288,"fitc":9.4},{"ssc":300,"fitc":9.8},{"ssc":312,"fitc":9.3},{"ssc":326,"fitc":9.7},{"ssc":339,"fitc":9.4},{"ssc":352,"fitc":9.6},{"ssc":368,"fitc":9.3},{"ssc":218,"fitc":8.1},{"ssc":232,"fitc":8.5},{"ssc":245,"fitc":8.2},{"ssc":258,"fitc":8.4},{"ssc":271,"fitc":8.1},{"ssc":284,"fitc":8.5},{"ssc":297,"fitc":8.2},{"ssc":309,"fitc":8.4},{"ssc":321,"fitc":8.1},{"ssc":335,"fitc":8.5},{"ssc":348,"fitc":8.2},{"ssc":362,"fitc":8.4},{"ssc":214,"fitc":7.1},{"ssc":228,"fitc":7.4},{"ssc":240,"fitc":7.0},{"ssc":252,"fitc":7.3},{"ssc":265,"fitc":7.1},{"ssc":278,"fitc":7.4},{"ssc":291,"fitc":7.0},{"ssc":303,"fitc":7.3},{"ssc":316,"fitc":7.1},{"ssc":329,"fitc":7.4},{"ssc":342,"fitc":7.0},{"ssc":356,"fitc":7.3},{"ssc":371,"fitc":7.1},{"ssc":222,"fitc":6.2},{"ssc":236,"fitc":6.4},{"ssc":249,"fitc":6.1},{"ssc":261,"fitc":6.4},{"ssc":273,"fitc":6.2},{"ssc":286,"fitc":6.5},{"ssc":298,"fitc":6.1},{"ssc":311,"fitc":6.4},{"ssc":324,"fitc":6.2},{"ssc":337,"fitc":6.4},{"ssc":351,"fitc":6.1},{"ssc":364,"fitc":6.3},{"ssc":219,"fitc":5.4},{"ssc":233,"fitc":5.6},{"ssc":246,"fitc":5.3},{"ssc":258,"fitc":5.6},{"ssc":270,"fitc":5.4},{"ssc":282,"fitc":5.7},{"ssc":294,"fitc":5.3},{"ssc":306,"fitc":5.6},{"ssc":319,"fitc":5.4},{"ssc":332,"fitc":5.6},{"ssc":346,"fitc":5.3},{"ssc":360,"fitc":5.5},{"ssc":226,"fitc":4.7},{"ssc":240,"fitc":4.9},{"ssc":252,"fitc":4.6},{"ssc":264,"fitc":4.9},{"ssc":277,"fitc":4.7},{"ssc":289,"fitc":5.0},{"ssc":301,"fitc":4.6},{"ssc":313,"fitc":4.9},{"ssc":326,"fitc":4.7},{"ssc":339,"fitc":4.9},{"ssc":353,"fitc":4.6},{"ssc":230,"fitc":4.1},{"ssc":244,"fitc":4.3},{"ssc":257,"fitc":4.0},{"ssc":269,"fitc":4.3},{"ssc":281,"fitc":4.1},{"ssc":293,"fitc":4.3},{"ssc":305,"fitc":4.0},{"ssc":318,"fitc":4.3},{"ssc":331,"fitc":4.1},{"ssc":344,"fitc":4.2},{"ssc":236,"fitc":3.5},{"ssc":249,"fitc":3.7},{"ssc":261,"fitc":3.5},{"ssc":274,"fitc":3.7},{"ssc":286,"fitc":3.5},{"ssc":299,"fitc":3.7},{"ssc":311,"fitc":3.5},{"ssc":324,"fitc":3.7},{"ssc":338,"fitc":3.5},{"ssc":240,"fitc":3.1},{"ssc":254,"fitc":3.3},{"ssc":267,"fitc":3.1},{"ssc":279,"fitc":3.3},{"ssc":291,"fitc":3.1},{"ssc":304,"fitc":3.3},{"ssc":316,"fitc":3.1},{"ssc":330,"fitc":3.2},{"ssc":246,"fitc":2.7},{"ssc":259,"fitc":2.8},{"ssc":272,"fitc":2.65},{"ssc":284,"fitc":2.8},{"ssc":296,"fitc":2.7},{"ssc":309,"fitc":2.85},{"ssc":322,"fitc":2.7},{"ssc":252,"fitc":2.35},{"ssc":266,"fitc":2.45},{"ssc":280,"fitc":2.35},{"ssc":292,"fitc":2.5},{"ssc":305,"fitc":2.4},{"ssc":318,"fitc":2.45},{"ssc":258,"fitc":2.05},{"ssc":273,"fitc":2.15},{"ssc":287,"fitc":2.05},{"ssc":300,"fitc":2.15},{"ssc":313,"fitc":2.1},{"ssc":266,"fitc":1.78},{"ssc":281,"fitc":1.85},{"ssc":296,"fitc":1.76},{"ssc":270,"fitc":1.48},{"ssc":288,"fitc":1.55},{"ssc":305,"fitc":1.46},{"ssc":282,"fitc":1.2},{"ssc":262,"fitc":10.2},{"ssc":287,"fitc":10.4},{"ssc":311,"fitc":10.1},{"ssc":274,"fitc":8.9},{"ssc":299,"fitc":8.8},{"ssc":323,"fitc":9.0},{"ssc":268,"fitc":7.7},{"ssc":292,"fitc":7.8},{"ssc":316,"fitc":7.6},{"ssc":281,"fitc":6.8},{"ssc":305,"fitc":6.7},{"ssc":287,"fitc":5.9},{"ssc":262,"fitc":6.0},{"ssc":313,"fitc":5.1},{"ssc":270,"fitc":5.0},{"ssc":296,"fitc":4.4},{"ssc":283,"fitc":3.9},{"ssc":292,"fitc":3.4}],
  "fitc_sparse": [{"ssc":130,"fitc":14},{"ssc":135,"fitc":9},{"ssc":150,"fitc":16},{"ssc":160,"fitc":7},{"ssc":170,"fitc":12},{"ssc":178,"fitc":5},{"ssc":185,"fitc":9},{"ssc":192,"fitc":15},{"ssc":198,"fitc":4},{"ssc":200,"fitc":11},{"ssc":165,"fitc":3.5},{"ssc":182,"fitc":2.5},{"ssc":190,"fitc":6.5},{"ssc":205,"fitc":2.2},{"ssc":380,"fitc":10},{"ssc":386,"fitc":6},{"ssc":395,"fitc":13},{"ssc":400,"fitc":4},{"ssc":410,"fitc":8},{"ssc":420,"fitc":3},{"ssc":435,"fitc":12},{"ssc":445,"fitc":5},{"ssc":460,"fitc":15},{"ssc":470,"fitc":7},{"ssc":483,"fitc":13},{"ssc":375,"fitc":3},{"ssc":390,"fitc":2},{"ssc":360,"fitc":1.6},{"ssc":240,"fitc":1.5},{"ssc":230,"fitc":2},{"ssc":225,"fitc":1.8},{"ssc":320,"fitc":1.3},{"ssc":300,"fitc":1.15},{"ssc":335,"fitc":1.6},{"ssc":85,"fitc":22},{"ssc":90,"fitc":55},{"ssc":95,"fitc":130},{"ssc":100,"fitc":30},{"ssc":105,"fitc":210},{"ssc":110,"fitc":80},{"ssc":115,"fitc":400},{"ssc":120,"fitc":160},{"ssc":125,"fitc":50},{"ssc":128,"fitc":600},{"ssc":132,"fitc":250},{"ssc":137,"fitc":70},{"ssc":142,"fitc":500},{"ssc":147,"fitc":35},{"ssc":155,"fitc":700},{"ssc":160,"fitc":900},{"ssc":168,"fitc":1100},{"ssc":178,"fitc":800},{"ssc":128,"fitc":1000},{"ssc":140,"fitc":850},{"ssc":112,"fitc":300},{"ssc":97,"fitc":180},{"ssc":122,"fitc":26},{"ssc":134,"fitc":140},{"ssc":118,"fitc":100},{"ssc":106,"fitc":45},{"ssc":425,"fitc":600},{"ssc":432,"fitc":350},{"ssc":440,"fitc":180},{"ssc":445,"fitc":500},{"ssc":450,"fitc":90},{"ssc":455,"fitc":280},{"ssc":462,"fitc":140},{"ssc":468,"fitc":60},{"ssc":472,"fitc":400},{"ssc":478,"fitc":220},{"ssc":483,"fitc":30},{"ssc":488,"fitc":600},{"ssc":494,"fitc":110},{"ssc":438,"fitc":40},{"ssc":458,"fitc":25},{"ssc":480,"fitc":20},{"ssc":445,"fitc":800},{"ssc":465,"fitc":700},{"ssc":490,"fitc":320},{"ssc":440,"fitc":1000},{"ssc":428,"fitc":800},{"ssc":412,"fitc":700},{"ssc":400,"fitc":950},{"ssc":325,"fitc":2800},{"ssc":270,"fitc":1600},{"ssc":300,"fitc":1500},{"ssc":350,"fitc":1400},{"ssc":230,"fitc":1400},{"ssc":205,"fitc":1350}],
  "b_bars": [{"condition":"Open","idx":1,"mean":81.85,"upper":83.4},{"condition":"Filled","idx":2,"mean":76.7,"upper":78.0}]
},
"spacing": 39,
"hconcat": [
  {
    "spacing": 125,
    "bounds": "flush",
    "vconcat": [
      {
        "width": 367, "height": 357,
        "layer": [
          {
            "data": {"name": "hist"},
            "mark": {"type": "area", "interpolate": "step-after", "color": "#1e1e1e"},
            "encoding": {
              "x": {"field": "fl2", "type": "quantitative", "scale": {"type": "log", "domain": [1, 10000], "nice": false},
                "axis": {"title": "FL-2 DNA staining", "values": [1,2,3,4,5,6,7,8,9,10,20,30,40,50,60,70,80,90,100,200,300,400,500,600,700,800,900,1000,2000,3000,4000,5000,6000,7000,8000,9000,10000],
                  "labelExpr": "abs(log(datum.value)/LN10 - round(log(datum.value)/LN10)) < 0.001 ? '10' + ['⁰','¹','²','³','⁴'][round(log(datum.value)/LN10)] : ''",
                  "tickSize": {"condition": {"test": "abs(log(datum.value)/LN10 - round(log(datum.value)/LN10)) < 0.001", "value": 7}, "value": 4},
                  "labelFontSize": 22, "labelFontWeight": "bold", "labelPadding": 12, "titleFontSize": 24, "titleY": 83, "titleBaseline": "alphabetic"}},
              "y": {"field": "count", "type": "quantitative", "scale": {"domain": [0, 200], "nice": false},
                "axis": {"title": "Counts", "values": [0,10,20,30,40,50,60,70,80,90,100,110,120,130,140,150,160,170,180,190,200],
                  "labelExpr": "datum.value % 40 === 0 ? '' + datum.value : ''",
                  "tickSize": {"condition": {"test": "datum.value % 40 === 0", "value": 7}, "value": 4},
                  "labelAngle": 270, "labelAlign": "center", "labelBaseline": "middle", "labelPadding": 14, "labelFontSize": 23, "labelFontWeight": "bold",
                  "titleFontSize": 24, "titleAngle": 270, "titleX": -84, "titleBaseline": "middle", "titleAlign": "center"}}
            }
          },
          {
            "data": {"values": [{"lo": 337, "hi": 2970, "c1": 68, "c2": 68}, {"lo": 337, "hi": 337, "c1": 57.5, "c2": 78}, {"lo": 2970, "hi": 2970, "c1": 57.5, "c2": 78}, {"lo": 0.264, "hi": 0.264, "c1": -1, "c2": 190}, {"lo": 0.93, "hi": 6530, "c1": -28, "c2": -28}]},
            "mark": {"type": "rule", "color": "#333333", "strokeWidth": 1.4},
            "encoding": {"x": {"field": "lo", "type": "quantitative"}, "x2": {"field": "hi"}, "y": {"field": "c1", "type": "quantitative"}, "y2": {"field": "c2"}}
          },
          {
            "data": {"values": [{"fl2": 0.264, "count": 192}]},
            "mark": {"type": "point", "shape": "M-1,0.8L0,-0.8L1,0.8Z", "size": 625, "filled": true, "opacity": 1, "color": "#333333"},
            "encoding": {"x": {"field": "fl2", "type": "quantitative"}, "y": {"field": "count", "type": "quantitative"}}
          },
          {
            "data": {"values": [{"fl2": 7413, "count": -28}]},
            "mark": {"type": "point", "shape": "M-1,-0.85L1,0L-1,0.85Z", "size": 529, "filled": true, "opacity": 1, "color": "#333333"},
            "encoding": {"x": {"field": "fl2", "type": "quantitative"}, "y": {"field": "count", "type": "quantitative"}}
          },
          {
            "data": {"values": [{"fl2": 0.0877, "count": 210, "label": "A"}]},
            "mark": {"type": "text", "fontSize": 35, "fontWeight": "bold", "align": "center", "baseline": "middle", "color": "#2a2a2a"},
            "encoding": {"x": {"field": "fl2", "type": "quantitative"}, "y": {"field": "count", "type": "quantitative"}, "text": {"field": "label"}}
          }
        ]
      },
      {
        "width": 357, "height": 341,
        "layer": [
          {
            "data": {"name": "fsc_sparse"},
            "mark": {"type": "square", "size": 9, "opacity": 1, "color": "#1c1c1c"},
            "encoding": {
              "x": {"field": "ssc", "type": "quantitative", "scale": {"domain": [0, 1000], "nice": false},
                "axis": {"title": "SSC-Height", "values": [0,50,100,150,200,250,300,350,400,450,500,550,600,650,700,750,800,850,900,950,1000],
                  "labelExpr": "datum.value % 200 === 0 ? '' + datum.value : ''",
                  "tickSize": {"condition": {"test": "datum.value % 200 === 0", "value": 7}, "value": 4},
                  "labelFontSize": 23, "labelFontWeight": "bold", "labelPadding": 19, "titleFontSize": 24, "titleY": 85, "titleBaseline": "alphabetic"}},
              "y": {"field": "fsc", "type": "quantitative", "scale": {"domain": [0, 1000], "nice": false},
                "axis": {"title": "FSC-Height", "values": [0,50,100,150,200,250,300,350,400,450,500,550,600,650,700,750,800,850,900,950,1000],
                  "labelExpr": "datum.value % 200 === 0 ? '' + datum.value : ''",
                  "tickSize": {"condition": {"test": "datum.value % 200 === 0", "value": 7}, "value": 4},
                  "labelAngle": 270, "labelAlign": "center", "labelBaseline": "middle", "labelPadding": 17, "labelFontSize": 22, "labelFontWeight": "bold",
                  "titleFontSize": 24, "titleAngle": 270, "titleX": -86, "titleBaseline": "middle", "titleAlign": "center"}}
            }
          },
          {
            "data": {"name": "fsc_core"},
            "mark": {"type": "square", "size": 64, "opacity": 1, "color": "#1c1c1c"},
            "encoding": {"x": {"field": "ssc", "type": "quantitative"}, "y": {"field": "fsc", "type": "quantitative"}}
          },
          {
            "data": {"name": "mono_gate"},
            "mark": {"type": "line", "color": "#333333", "strokeWidth": 1.4},
            "encoding": {"x": {"field": "ssc", "type": "quantitative"}, "y": {"field": "fsc", "type": "quantitative"}, "order": {"field": "i", "type": "quantitative"}}
          },
          {
            "data": {"values": [{"ssc": 452, "fsc": 105}]},
            "mark": {"type": "point", "shape": "M-1,0.45L-0.1,-0.9L1.1,0.5Z", "size": 484, "filled": true, "opacity": 1, "color": "#333333"},
            "encoding": {"x": {"field": "ssc", "type": "quantitative"}, "y": {"field": "fsc", "type": "quantitative"}}
          },
          {
            "data": {"values": [{"ssc": 512, "fsc": 85, "label": "Monocytes"}]},
            "mark": {"type": "text", "fontSize": 24, "fontWeight": "bold", "align": "left", "baseline": "middle", "color": "#2f2f2f"},
            "encoding": {"x": {"field": "ssc", "type": "quantitative"}, "y": {"field": "fsc", "type": "quantitative"}, "text": {"field": "label"}}
          },
          {
            "data": {"values": [{"s1": -148, "s2": -148, "f1": -35, "f2": 990}, {"s1": -5, "s2": 975, "f1": -170, "f2": -170}]},
            "mark": {"type": "rule", "color": "#333333", "strokeWidth": 1.4},
            "encoding": {"x": {"field": "s1", "type": "quantitative"}, "x2": {"field": "s2"}, "y": {"field": "f1", "type": "quantitative"}, "y2": {"field": "f2"}}
          },
          {
            "data": {"values": [{"ssc": -148, "fsc": 1010}]},
            "mark": {"type": "point", "shape": "M-1,0.8L0,-0.8L1,0.8Z", "size": 625, "filled": true, "opacity": 1, "color": "#333333"},
            "encoding": {"x": {"field": "ssc", "type": "quantitative"}, "y": {"field": "fsc", "type": "quantitative"}}
          },
          {
            "data": {"values": [{"ssc": 990, "fsc": -170}]},
            "mark": {"type": "point", "shape": "M-1,-0.85L1,0L-1,0.85Z", "size": 529, "filled": true, "opacity": 1, "color": "#333333"},
            "encoding": {"x": {"field": "ssc", "type": "quantitative"}, "y": {"field": "fsc", "type": "quantitative"}}
          }
        ]
      },
      {
        "width": 353, "height": 341,
        "layer": [
          {
            "data": {"name": "fitc_sparse"},
            "mark": {"type": "square", "size": 9, "opacity": 1, "color": "#1c1c1c"},
            "encoding": {
              "x": {"field": "ssc", "type": "quantitative", "scale": {"domain": [0, 500], "nice": false},
                "axis": {"title": "SSC-Height", "values": [0,25,50,75,100,125,150,175,200,225,250,275,300,325,350,375,400,425,450,475,500],
                  "labelExpr": "datum.value % 100 === 0 ? '' + datum.value : ''",
                  "tickSize": {"condition": {"test": "datum.value % 100 === 0", "value": 7}, "value": 4},
                  "labelFontSize": 23, "labelFontWeight": "bold", "labelPadding": 15, "titleFontSize": 24, "titleY": 84, "titleBaseline": "alphabetic"}},
              "y": {"field": "fitc", "type": "quantitative", "scale": {"type": "log", "domain": [1, 10000], "nice": false},
                "axis": {"title": "FL-1 FITC-E. coli", "values": [1,2,3,4,5,6,7,8,9,10,20,30,40,50,60,70,80,90,100,200,300,400,500,600,700,800,900,1000,2000,3000,4000,5000,6000,7000,8000,9000,10000],
                  "labelExpr": "abs(log(datum.value)/LN10 - round(log(datum.value)/LN10)) < 0.001 ? '10' + ['⁰','¹','²','³','⁴'][round(log(datum.value)/LN10)] : ''",
                  "tickSize": {"condition": {"test": "abs(log(datum.value)/LN10 - round(log(datum.value)/LN10)) < 0.001", "value": 7}, "value": 4},
                  "labelAngle": 270, "labelAlign": "center", "labelBaseline": "middle", "labelPadding": 16, "labelFontSize": 22, "labelFontWeight": "bold",
                  "titleFontSize": 24, "titleAngle": 270, "titleX": -88, "titleBaseline": "middle", "titleAlign": "center"}}
            }
          },
          {
            "data": {"name": "fitc_cloud"},
            "mark": {"type": "square", "size": 18, "opacity": 1, "color": "#1c1c1c"},
            "encoding": {"x": {"field": "ssc", "type": "quantitative"}, "y": {"field": "fitc", "type": "quantitative"}}
          },
          {
            "data": {"name": "fitc_core"},
            "mark": {"type": "square", "size": 64, "opacity": 1, "color": "#1c1c1c"},
            "encoding": {"x": {"field": "ssc", "type": "quantitative"}, "y": {"field": "fitc", "type": "quantitative"}}
          },
          {
            "data": {"values": [{"s1": 0, "s2": 496, "f1": 18.7, "f2": 18.0}, {"s1": 362.6, "s2": 382, "f1": 661, "f2": 1710}, {"s1": -81, "s2": -81, "f1": 1, "f2": 8000}, {"s1": -4, "s2": 485, "f1": 0.239, "f2": 0.239}]},
            "mark": {"type": "rule", "color": "#333333", "strokeWidth": 1.4},
            "encoding": {"x": {"field": "s1", "type": "quantitative"}, "x2": {"field": "s2"}, "y": {"field": "f1", "type": "quantitative"}, "y2": {"field": "f2"}}
          },
          {
            "data": {"values": [{"ssc": 389.5, "fitc": 2000}]},
            "mark": {"type": "point", "shape": "M-0.97,0.11L0.42,-0.94L0.56,0.81Z", "size": 576, "filled": true, "opacity": 1, "color": "#333333"},
            "encoding": {"x": {"field": "ssc", "type": "quantitative"}, "y": {"field": "fitc", "type": "quantitative"}}
          },
          {
            "data": {"values": [{"ssc": -81, "fitc": 9230}]},
            "mark": {"type": "point", "shape": "M-1,0.8L0,-0.8L1,0.8Z", "size": 625, "filled": true, "opacity": 1, "color": "#333333"},
            "encoding": {"x": {"field": "ssc", "type": "quantitative"}, "y": {"field": "fitc", "type": "quantitative"}}
          },
          {
            "data": {"values": [{"ssc": 500, "fitc": 0.239}]},
            "mark": {"type": "point", "shape": "M-1,-0.85L1,0L-1,0.85Z", "size": 529, "filled": true, "opacity": 1, "color": "#333333"},
            "encoding": {"x": {"field": "ssc", "type": "quantitative"}, "y": {"field": "fitc", "type": "quantitative"}}
          },
          {
            "data": {"values": [{"ssc": 358, "fitc": 4200, "label": "Phagocytosed cells"}]},
            "mark": {"type": "text", "fontSize": 24, "fontWeight": "bold", "align": "center", "baseline": "middle", "color": "#2f2f2f"},
            "encoding": {"x": {"field": "ssc", "type": "quantitative"}, "y": {"field": "fitc", "type": "quantitative"}, "text": {"field": "label"}}
          }
        ]
      }
    ]
  },
  {
    "spacing": 60,
    "bounds": "flush",
    "vconcat": [
      {
        "width": 395, "height": 384,
        "data": {"values": [{"idx": -0.78, "level": 0.073, "label": "B"}]},
        "mark": {"type": "text", "fontSize": 27, "fontWeight": "bold", "align": "center", "baseline": "middle", "color": "#2a2a2a"},
        "encoding": {
          "x": {"field": "idx", "type": "quantitative", "scale": {"domain": [-0.05, 2.85], "nice": false, "zero": false}, "axis": null},
          "y": {"field": "level", "type": "quantitative", "scale": {"domain": [0, 1], "nice": false}, "axis": null},
          "text": {"field": "label"}
        }
      },
      {
        "width": 395, "height": 461,
        "layer": [
          {
            "data": {"name": "b_bars"},
            "mark": {"type": "bar", "width": 136, "stroke": "#2b2b2b", "strokeWidth": 1.5},
            "encoding": {
              "x": {"field": "idx", "type": "quantitative", "scale": {"domain": [-0.05, 2.85], "nice": false, "zero": false}, "axis": null},
              "y": {"field": "mean", "type": "quantitative", "scale": {"domain": [70, 83.9], "nice": false, "zero": false},
                "axis": {"title": "FITC positive cells (%)", "values": [70, 74, 78, 82], "tickSize": 8, "labelFontSize": 24, "labelFontWeight": "bold", "labelPadding": 21,
                  "titleFontSize": 23, "titleAngle": 270, "titleX": -92, "titleY": 385, "titleBaseline": "middle", "titleAlign": "center"}},
              "y2": {"datum": 70},
              "color": {"field": "condition", "type": "nominal", "scale": {"domain": ["Open", "Filled"], "range": ["#ffffff", "#272727"]}, "legend": null}
            }
          },
          {
            "data": {"name": "b_bars"},
            "mark": {"type": "rule", "color": "#2b2b2b", "strokeWidth": 1.5},
            "encoding": {"x": {"field": "idx", "type": "quantitative"}, "y": {"field": "mean", "type": "quantitative"}, "y2": {"field": "upper"}}
          },
          {
            "data": {"name": "b_bars"},
            "mark": {"type": "tick", "orient": "horizontal", "size": 24, "thickness": 1.5, "color": "#2b2b2b", "opacity": 1},
            "encoding": {"x": {"field": "idx", "type": "quantitative"}, "y": {"field": "upper", "type": "quantitative"}}
          },
          {
            "data": {"values": [{"i1": 1, "i2": 2, "p1": 85.92, "p2": 85.92}, {"i1": 1, "i2": 1, "p1": 84.86, "p2": 85.92}, {"i1": 2, "i2": 2, "p1": 84.86, "p2": 85.92}]},
            "mark": {"type": "rule", "color": "#333333", "strokeWidth": 1.4},
            "encoding": {"x": {"field": "i1", "type": "quantitative"}, "x2": {"field": "i2"}, "y": {"field": "p1", "type": "quantitative"}, "y2": {"field": "p2"}}
          },
          {
            "data": {"values": [{"idx": 1.5, "pct": 86.15, "label": "*"}]},
            "mark": {"type": "text", "fontSize": 40, "fontWeight": "bold", "align": "center", "baseline": "middle", "color": "#2f2f2f"},
            "encoding": {"x": {"field": "idx", "type": "quantitative"}, "y": {"field": "pct", "type": "quantitative"}, "text": {"field": "label"}}
          },
          {
            "data": {"values": [{"idx": -0.087, "pct": 70.09, "label": "≈"}, {"idx": -0.087, "pct": 68.43, "label": "≈"}]},
            "mark": {"type": "text", "fontSize": 52, "fontWeight": "normal", "angle": 310, "align": "center", "baseline": "middle", "color": "#3a3a3a"},
            "encoding": {"x": {"field": "idx", "type": "quantitative"}, "y": {"field": "pct", "type": "quantitative"}, "text": {"field": "label"}}
          }
        ]
      },
      {
        "width": 395, "height": 236,
        "data": {"name": "b_bars"},
        "mark": {"type": "bar", "width": 136, "stroke": "#2b2b2b", "strokeWidth": 1.5},
        "encoding": {
          "x": {"field": "idx", "type": "quantitative", "scale": {"domain": [-0.05, 2.85], "nice": false, "zero": false},
            "axis": {"ticks": false, "labels": false, "title": null}},
          "y": {"field": "mean", "type": "quantitative", "stack": null, "scale": {"domain": [0, 10], "nice": false, "clamp": true},
            "axis": {"title": null, "values": [0, 10], "tickSize": 8, "labelFontSize": 24, "labelFontWeight": "bold", "labelPadding": 21}},
          "color": {"field": "condition", "type": "nominal", "scale": {"domain": ["Open", "Filled"], "range": ["#ffffff", "#272727"]}, "legend": null}
        }
      }
    ]
  }
]
}
